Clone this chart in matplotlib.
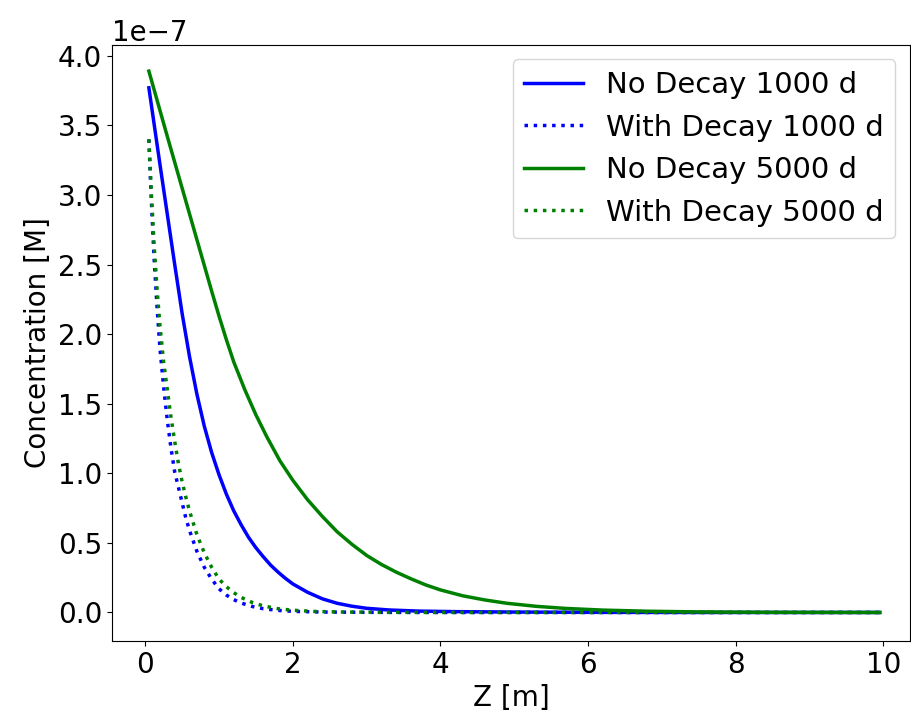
import matplotlib
matplotlib.use("Agg")
from matplotlib import pyplot as plt

# depth [m] and concentration (in units of 1e-7 M)
z_nd_1000 = [0.05, 0.2, 0.3, 0.4, 0.5, 0.6, 0.7, 0.8, 0.9, 1.0, 1.1, 1.2, 1.3, 1.4, 1.5,
             1.6, 1.7, 1.8, 1.9, 2.0, 2.2, 2.4, 2.6, 2.8, 3.0, 3.3, 3.7, 4.2, 5.0, 6.0, 7.5, 9.95]
c_nd_1000 = [3.77, 3.22, 2.86, 2.50, 2.15, 1.84, 1.57, 1.34, 1.15, 0.99, 0.85, 0.73, 0.63, 0.54, 0.465,
             0.40, 0.34, 0.29, 0.245, 0.205, 0.145, 0.098, 0.066, 0.045, 0.030, 0.018, 0.010, 0.006, 0.003, 0.001, 0.0, 0.0]

z_wd_1000 = [0.05, 0.08, 0.12, 0.16, 0.20, 0.25, 0.30, 0.35, 0.40, 0.45, 0.50, 0.55, 0.60, 0.70,
             0.80, 0.90, 1.00, 1.10, 1.20, 1.30, 1.45, 1.6, 1.8, 2.0, 2.4, 3.0, 4.0, 9.95]
c_wd_1000 = [3.40, 3.00, 2.55, 2.20, 1.90, 1.62, 1.38, 1.18, 1.01, 0.90, 0.79, 0.68, 0.59, 0.44,
             0.325, 0.24, 0.17, 0.125, 0.092, 0.068, 0.043, 0.027, 0.015, 0.008, 0.003, 0.001, 0.0, 0.0]

z_nd_5000 = [0.05, 0.3, 0.5, 0.7, 0.9, 1.0, 1.1, 1.2, 1.35, 1.5, 1.65, 1.825, 2.0, 2.2, 2.4, 2.6,
             2.8, 3.0, 3.2, 3.4, 3.6, 3.8, 4.0, 4.3, 4.6, 4.9, 5.3, 5.7, 6.2, 6.8, 7.5, 8.5, 9.95]
c_nd_5000 = [3.89, 3.42, 3.05, 2.68, 2.31, 2.13, 1.96, 1.80, 1.60, 1.42, 1.26, 1.09, 0.95, 0.81, 0.69, 0.58,
             0.49, 0.41, 0.345, 0.29, 0.242, 0.198, 0.162, 0.12, 0.09, 0.066, 0.044, 0.029, 0.017, 0.009, 0.004, 0.001, 0.0]

z_wd_5000 = [0.05, 0.08, 0.12, 0.16, 0.20, 0.25, 0.30, 0.35, 0.40, 0.45, 0.50, 0.55, 0.60, 0.70,
             0.80, 0.90, 1.00, 1.10, 1.20, 1.30, 1.45, 1.6, 1.8, 2.0, 2.3, 2.7, 3.3, 4.5, 9.95]
c_wd_5000 = [3.40, 3.05, 2.65, 2.33, 2.06, 1.80, 1.60, 1.40, 1.23, 1.07, 0.94, 0.83, 0.73, 0.56,
             0.43, 0.325, 0.24, 0.185, 0.142, 0.108, 0.072, 0.047, 0.027, 0.016, 0.007, 0.003, 0.001, 0.0, 0.0]

scale = 1e-7

fig = plt.figure(figsize=(9.11, 7.15), dpi=100)
ax = fig.add_axes([0.1229, 0.1035, 0.876, 0.834])

ax.plot(z_nd_1000, [c * scale for c in c_nd_1000], color="blue", lw=2.5, label="No Decay 1000 d")
ax.plot(z_wd_1000, [c * scale for c in c_wd_1000], color="blue", lw=2.5, ls=":", label="With Decay 1000 d")
ax.plot(z_nd_5000, [c * scale for c in c_nd_5000], color="green", lw=2.5, label="No Decay 5000 d")
ax.plot(z_wd_5000, [c * scale for c in c_wd_5000], color="green", lw=2.5, ls=":", label="With Decay 5000 d")

ax.set_xlim(-0.45, 10.36)
ax.set_ylim(-0.205e-7, 4.08e-7)
ax.set_xticks([0, 2, 4, 6, 8, 10])
ax.set_yticks([i * 0.5e-7 for i in range(9)])

ax.set_xlabel("Z [m]", fontsize=20)
ax.set_ylabel("Concentration [M]", fontsize=20)
ax.tick_params(labelsize=20)
ax.yaxis.get_offset_text().set_fontsize(20)

ax.legend(loc="upper right", fontsize=21)

fig.savefig("out.png", dpi=100)
